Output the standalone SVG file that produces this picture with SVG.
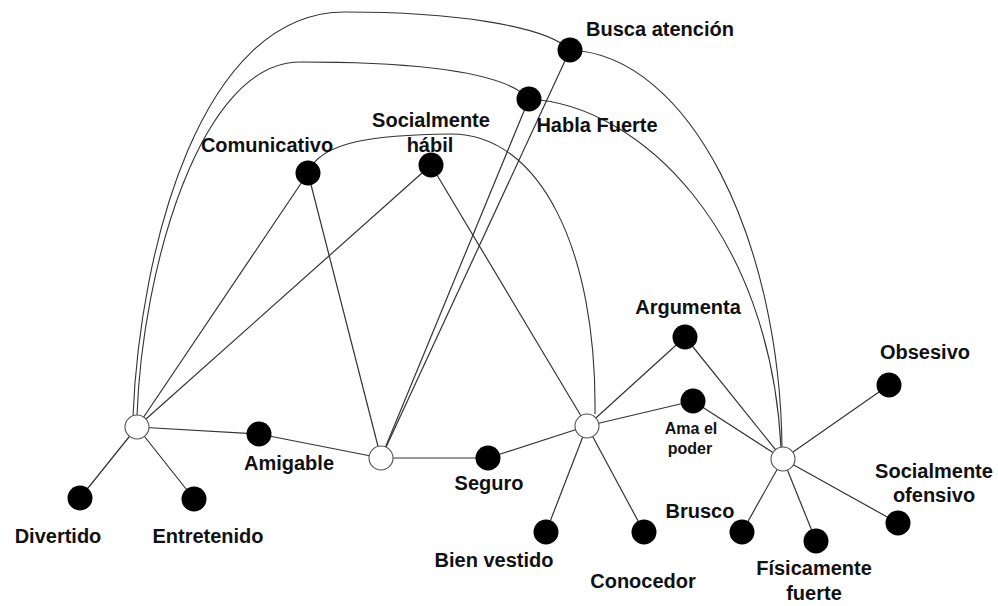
<svg xmlns="http://www.w3.org/2000/svg" width="998" height="606" viewBox="0 0 998 606">
<style>
  .e { stroke: #333; stroke-width: 1.2; fill: none; }
  .a { stroke: #333; stroke-width: 1.1; fill: none; }
  .hub { fill: #fff; stroke: #555; stroke-width: 1.1; }
  .dot { fill: #000; }
  text { font-family: "Liberation Sans", Arial, sans-serif; font-weight: bold; font-size: 20px; fill: #111; text-anchor: middle; }
  .sm { font-size: 16px; }
</style>
<rect width="998" height="606" fill="#fff"/>
<g id="connectors">
  <!-- hub 1 -->
  <line class="e" x1="137" y1="427" x2="80" y2="498"/>
  <line class="e" x1="137" y1="427" x2="194" y2="499"/>
  <line class="e" x1="137" y1="427" x2="259" y2="434"/>
  <line class="e" x1="137" y1="427" x2="308" y2="173"/>
  <line class="e" x1="137" y1="427" x2="431" y2="165"/>
  <path class="a" d="M133,416 C 140,250 200,12 345,12 C 450,12 545,25 570,50"/>
  <path class="a" d="M137,416 C 142,270 200,62 300,62 C 420,62 505,72 529,99"/>
  <!-- hub 2 -->
  <line class="e" x1="259" y1="434" x2="381" y2="458"/>
  <line class="e" x1="381" y1="458" x2="308" y2="173"/>
  <line class="e" x1="381" y1="458" x2="570" y2="50"/>
  <line class="e" x1="381" y1="458" x2="529" y2="99"/>
  <line class="e" x1="381" y1="458" x2="488" y2="458"/>
  <!-- hub 3 -->
  <line class="e" x1="488" y1="458" x2="587" y2="426"/>
  <line class="e" x1="587" y1="426" x2="431" y2="165"/>
  <path class="a" d="M308,173 C 320,140 380,135 450,134 C 540,133 597,250 595,414"/>
  <line class="e" x1="587" y1="426" x2="685" y2="337"/>
  <line class="e" x1="587" y1="426" x2="693" y2="401"/>
  <line class="e" x1="587" y1="426" x2="546" y2="532"/>
  <line class="e" x1="587" y1="426" x2="644" y2="532"/>
  <!-- hub 4 -->
  <line class="e" x1="783" y1="459" x2="685" y2="337"/>
  <line class="e" x1="783" y1="459" x2="693" y2="401"/>
  <path class="a" d="M570,50 C 690,55 780,240 782,448"/>
  <path class="a" d="M529,99 C 640,105 770,230 781,448"/>
  <line class="e" x1="783" y1="459" x2="889" y2="385"/>
  <line class="e" x1="783" y1="459" x2="898" y2="523"/>
  <line class="e" x1="783" y1="459" x2="742" y2="532"/>
  <line class="e" x1="783" y1="459" x2="816" y2="541"/>
</g>
<g id="hub1"><circle class="hub" cx="137" cy="427" r="12"/></g>
<g id="hub2"><circle class="hub" cx="381" cy="458" r="12"/></g>
<g id="hub3"><circle class="hub" cx="587" cy="426" r="12"/></g>
<g id="hub4"><circle class="hub" cx="783" cy="459" r="12"/></g>
<g id="divertido"><circle class="dot" cx="80" cy="498" r="12.5"/><text x="58" y="543">Divertido</text></g>
<g id="entretenido"><circle class="dot" cx="194" cy="499" r="12.5"/><text x="208" y="543">Entretenido</text></g>
<g id="amigable"><circle class="dot" cx="259" cy="434" r="12.5"/><text x="289" y="470">Amigable</text></g>
<g id="comunicativo"><circle class="dot" cx="308" cy="173" r="12.5"/><text x="267" y="152">Comunicativo</text></g>
<g id="socialmente-habil"><circle class="dot" cx="431" cy="165" r="12.5"/><text x="431" y="127">Socialmente</text><text x="430" y="152">hábil</text></g>
<g id="busca-atencion"><circle class="dot" cx="570" cy="50" r="12.5"/><text x="660" y="36">Busca atención</text></g>
<g id="habla-fuerte"><circle class="dot" cx="529" cy="99" r="12.5"/><text x="597" y="132">Habla Fuerte</text></g>
<g id="seguro"><circle class="dot" cx="488" cy="458" r="12.5"/><text x="489" y="490">Seguro</text></g>
<g id="argumenta"><circle class="dot" cx="685" cy="337" r="12.5"/><text x="688" y="314">Argumenta</text></g>
<g id="ama-el-poder"><circle class="dot" cx="693" cy="401" r="12.5"/><text class="sm" x="691" y="434">Ama el</text><text class="sm" x="690" y="454">poder</text></g>
<g id="bien-vestido"><circle class="dot" cx="546" cy="532" r="12.5"/><text x="494" y="567">Bien vestido</text></g>
<g id="conocedor"><circle class="dot" cx="644" cy="532" r="12.5"/><text x="643" y="588">Conocedor</text></g>
<g id="brusco"><circle class="dot" cx="742" cy="532" r="12.5"/><text x="700" y="518">Brusco</text></g>
<g id="fisicamente-fuerte"><circle class="dot" cx="816" cy="541" r="12.5"/><text x="814" y="575">Físicamente</text><text x="814" y="600">fuerte</text></g>
<g id="obsesivo"><circle class="dot" cx="889" cy="385" r="12.5"/><text x="925" y="359">Obsesivo</text></g>
<g id="socialmente-ofensivo"><circle class="dot" cx="898" cy="523" r="12.5"/><text x="934" y="478">Socialmente</text><text x="934" y="502">ofensivo</text></g>
</svg>
